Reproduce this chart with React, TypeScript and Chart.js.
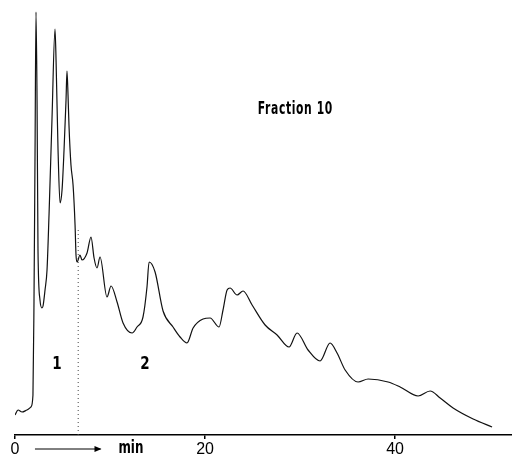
import React, { useEffect, useRef } from "react";
import { Chart, registerables } from "chart.js";

Chart.register(...registerables);

// Elution time (min)
const timeMin = [
  0, 0.32, 0.74, 1.26, 1.68, 1.89, 2.0, 2.11, 2.21, 2.32, 2.42, 2.63, 2.84, 2.95,
  3.16, 3.37, 3.58, 3.89, 4.21, 4.32, 4.53, 4.74, 4.95, 5.16, 5.37, 5.47, 5.58,
  5.68, 5.89, 6.11, 6.32, 6.42, 6.53, 6.84, 7.05, 7.58, 8.0, 8.32, 8.63, 8.95,
  9.68, 10.11, 10.74, 11.37, 12.32, 12.84, 13.47, 13.89, 14.11, 14.74, 15.58,
  16.63, 17.37, 18.1, 18.74, 19.79, 20.53, 21.47, 21.89, 22.32, 22.63, 23.37,
  24.0, 24.95, 26.32, 27.58, 28.84, 29.68, 30.84, 32.1, 33.16, 33.89, 34.74,
  36.1, 37.16, 39.26, 40.53, 42.42, 43.68, 44.74, 46.1, 48.21, 50.2,
];

// Detector response (arbitrary units)
const response = [
  20, 25, 23, 25, 28, 40, 135, 285, 423, 335, 185, 135, 127, 129,
  145, 165, 220, 315, 406, 375, 285, 232, 245, 285, 335, 364, 340,
  310, 270, 250, 210, 180, 173, 180, 175, 182, 198, 177, 167, 178,
  138, 149, 133, 112, 102, 108, 118, 148, 173, 163, 124,
  108, 98, 92, 107, 116, 117, 108, 125, 145, 147, 140,
  144, 130, 110, 100, 88, 102, 85, 74, 92, 82, 65,
  53, 56, 53, 48, 39, 44, 37, 27, 16, 8,
];

const xTicks = [0, 20, 40];
const xRange = [0, 52.3];
const yRange = [0, 435];

// Fraction cut marker (dotted vertical line)
const cutTime = [6.65, 6.65];
const cutResponse = [0, 205];

const titleText = "Fraction 10";
const peakLabels = ["1", "2"];
const peakLabelTimes = [4.42, 13.68];
const peakLabelResponse = [71, 71];
const unitText = "min";

function condensedText(
  c: CanvasRenderingContext2D,
  text: string,
  x: number,
  y: number,
  sx: number
) {
  c.save();
  c.translate(x, y);
  c.scale(sx, 1);
  c.fillText(text, 0, 0);
  c.restore();
}

export default function App() {
  const ref = useRef<HTMLCanvasElement | null>(null);

  useEffect(() => {
    document.body.style.margin = "0";
    const canvas = ref.current;
    if (!canvas) return;

    const annot = {
      id: "annot",
      afterDraw(chart: any) {
        const c = chart.ctx as CanvasRenderingContext2D;
        const xs = chart.scales.x;
        const ys = chart.scales.y;
        c.save();
        c.fillStyle = "#000";
        c.strokeStyle = "#000";
        c.textAlign = "center";
        c.textBaseline = "middle";
        c.font = "900 18px 'DejaVu Sans', 'Liberation Sans', sans-serif";
        (c as any).letterSpacing = "1px";
        condensedText(c, titleText, xs.getPixelForValue(29.5), ys.getPixelForValue(326), 0.6);
        (c as any).letterSpacing = "0px";
        c.font = "900 18px 'DejaVu Sans', 'Liberation Sans', sans-serif";
        peakLabels.forEach((t, i) => {
          condensedText(
            c,
            t,
            xs.getPixelForValue(peakLabelTimes[i]),
            ys.getPixelForValue(peakLabelResponse[i]),
            0.75
          );
        });
        // arrow + unit below axis
        const base = chart.chartArea.bottom;
        const ay = base + 14;
        const ax0 = xs.getPixelForValue(2.1);
        const ax1 = xs.getPixelForValue(9.0);
        c.lineWidth = 1;
        c.beginPath();
        c.moveTo(ax0, ay);
        c.lineTo(ax1, ay);
        c.stroke();
        c.beginPath();
        c.moveTo(ax1 + 1, ay);
        c.lineTo(ax1 - 6, ay - 3);
        c.lineTo(ax1 - 6, ay + 3);
        c.closePath();
        c.fill();
        c.font = "900 17px 'DejaVu Sans', 'Liberation Sans', sans-serif";
        condensedText(c, unitText, xs.getPixelForValue(12.2), ay, 0.7);
        c.restore();
      },
    };

    const chart = new Chart(canvas, {
      type: "line",
      data: {
        datasets: [
          {
            data: timeMin.map((t, i) => ({ x: t, y: response[i] })),
            borderColor: "#111",
            borderWidth: 1.2,
            pointRadius: 0,
            cubicInterpolationMode: "monotone",
            fill: false,
          },
          {
            data: cutTime.map((t, i) => ({ x: t, y: cutResponse[i] })),
            borderColor: "#444",
            borderWidth: 1,
            borderDash: [1, 3],
            pointRadius: 0,
            fill: false,
          },
        ],
      },
      options: {
        animation: false,
        responsive: false,
        maintainAspectRatio: false,
        layout: { padding: { left: 15, right: 0, top: 0, bottom: 0 } },
        plugins: { legend: { display: false }, tooltip: { enabled: false } },
        scales: {
          x: {
            type: "linear",
            min: xRange[0],
            max: xRange[1],
            afterBuildTicks: (s: any) => {
              s.ticks = xTicks.map((v) => ({ value: v }));
            },
            afterFit: (s: any) => {
              s.height = 22;
            },
            grid: {
              display: true,
              drawOnChartArea: false,
              drawTicks: true,
              tickLength: 4,
              color: "#000",
              lineWidth: 1.5,
            },
            border: { display: true, color: "#000", width: 1.5 },
            ticks: {
              color: "#000",
              font: { family: "'Liberation Sans', sans-serif", size: 16 },
              padding: 1,
              maxRotation: 0,
            },
          },
          y: { display: false, min: yRange[0], max: yRange[1] },
        },
      },
      plugins: [annot],
    } as any);

    return () => chart.destroy();
  }, []);

  return <canvas ref={ref} width={512} height={457} style={{ display: "block" }} />;
}
